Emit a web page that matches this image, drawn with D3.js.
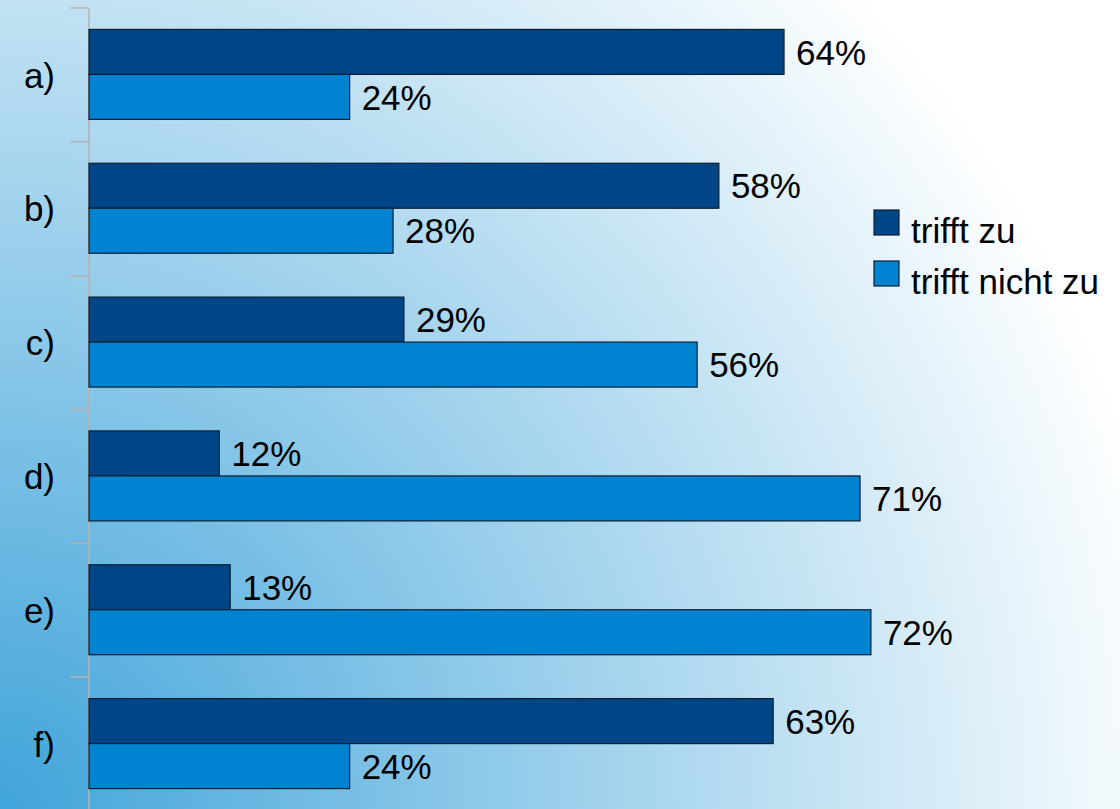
<!DOCTYPE html>
<html>
<head>
<meta charset="utf-8">
<script src="https://cdn.jsdelivr.net/npm/d3@7"></script>
<style>
  html, body { margin: 0; padding: 0; background: #fff; }
  svg { display: block; font-family: "Liberation Sans", Arial, sans-serif; }
</style>
</head>
<body>
<svg id="chart" width="1120" height="809"></svg>
<script>
// Survey answers per statement (percent)
const categories = ["a)", "b)", "c)", "d)", "e)", "f)"];
const seriesNames = ["trifft zu", "trifft nicht zu"];
const triffZu = [64, 58, 29, 12, 13, 63];
const triffNichtZu = [24, 28, 56, 71, 72, 24];
const seriesColors = ["#004586", "#0084d1"];

const W = 1120, H = 809;
const svg = d3.select("#chart");

// Backdrop: blue in the lower left corner fading outwards to white
const defs = svg.append("defs");
const grad = defs.append("radialGradient")
  .attr("id", "bg")
  .attr("gradientUnits", "userSpaceOnUse")
  .attr("cx", 0).attr("cy", H)
  .attr("fx", 0).attr("fy", H)
  .attr("r", 1190);
grad.append("stop").attr("offset", 0).attr("stop-color", "#40a4da");
grad.append("stop").attr("offset", 1).attr("stop-color", "#ffffff");
svg.append("rect").attr("width", W).attr("height", H).attr("fill", "url(#bg)");

const table = categories.map((c, i) => ({ cat: c, values: [triffZu[i], triffNichtZu[i]] }));

const x = d3.scaleLinear().domain([0, 100]).range([89, 89 + 1086]);
const y = d3.scaleBand().domain(categories).range([8, 811]);
const inner = d3.scaleBand().domain(d3.range(seriesNames.length))
  .range([y.bandwidth() / 2 - 45.5, y.bandwidth() / 2 + 44.5]);

// Category axis with outer tick marks between groups
const axisG = svg.append("g").attr("transform", `translate(${x(0)},0)`);
axisG.append("line")
  .attr("x1", 0).attr("x2", 0)
  .attr("y1", y.range()[0]).attr("y2", H)
  .attr("stroke", "#b3b3b3").attr("stroke-width", 1.5);
const boundaries = categories.map(c => y(c)).concat([y.range()[1]]);
axisG.selectAll("line.tick").data(boundaries).join("line")
  .attr("class", "tick")
  .attr("x1", -19).attr("x2", 0)
  .attr("y1", d => d).attr("y2", d => d)
  .attr("stroke", "#b3b3b3").attr("stroke-width", 1.5);

svg.append("g").selectAll("text").data(categories).join("text")
  .attr("x", 55)
  .attr("y", d => y(d) + y.bandwidth() / 2)
  .attr("dy", "0.36em")
  .attr("text-anchor", "end")
  .attr("font-size", 35)
  .attr("fill", "#000")
  .text(d => d);

// Bars and value labels
const groups = svg.append("g").selectAll("g").data(table).join("g")
  .attr("transform", d => `translate(0,${y(d.cat)})`);

groups.selectAll("rect").data(d => d.values.map((v, i) => ({ v, i }))).join("rect")
  .attr("x", x(0))
  .attr("y", d => inner(d.i))
  .attr("width", d => x(d.v) - x(0))
  .attr("height", inner.bandwidth())
  .attr("fill", d => seriesColors[d.i])
  .attr("stroke", "#0d1f33")
  .attr("stroke-width", 1.2);

groups.selectAll("text").data(d => d.values.map((v, i) => ({ v, i }))).join("text")
  .attr("x", d => x(d.v) + 12)
  .attr("y", d => inner(d.i) + inner.bandwidth() / 2)
  .attr("dy", "0.36em")
  .attr("font-size", 35)
  .attr("fill", "#000")
  .text(d => d.v + "%");

// Legend
const legend = svg.append("g").selectAll("g").data(seriesNames).join("g")
  .attr("transform", (d, i) => `translate(874,${210 + i * 51})`);
legend.append("rect")
  .attr("width", 25).attr("height", 25)
  .attr("fill", (d, i) => seriesColors[i])
  .attr("stroke", "#0d1f33").attr("stroke-width", 1.2);
legend.append("text")
  .attr("x", 37).attr("y", 33)
  .attr("font-size", 35)
  .attr("fill", "#000")
  .text(d => d);
</script>
</body>
</html>
